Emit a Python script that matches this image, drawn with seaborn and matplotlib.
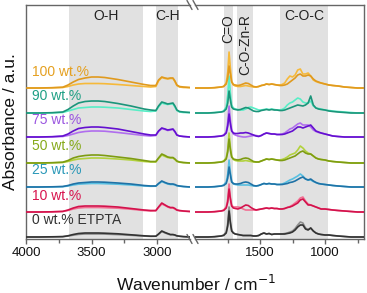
import matplotlib
matplotlib.use("Agg")
import matplotlib.pyplot as plt
from matplotlib.lines import Line2D
import seaborn as sns
import pandas as pd

sns.set_theme(style="white")
plt.rcParams['font.family'] = ['Liberation Sans', 'DejaVu Sans']

# ---------------- data (absorbance, arbitrary units, relative to each trace's baseline) -------------
labels = ["100 wt.%", "90 wt.%", "75 wt.%", "50 wt.%", "25 wt.%", "10 wt.%", "0 wt.% ETPTA"]
offsets = [150, 125, 101, 75, 51, 26, 1]

dark_colors = ["#E09A1E", "#1B957A", "#6410D0", "#7E9C12", "#1F72A6", "#D3124C", "#333333"]
light_colors = ["#F6B93A", "#58EEC6", "#B06EEE", "#B2D23C", "#58C0E2", "#F26E92", "#8E8E8E"]
label_colors = ["#E5A020", "#1FA085", "#9A55E0", "#86AA1A", "#2A98B8", "#D8144E", "#333333"]

# high-wavenumber window
wn_left = [4000, 3900, 3800, 3720, 3680, 3640, 3600, 3550, 3500, 3450, 3400, 3300, 3200, 3100,
           3050, 3010, 2990, 2965, 2940, 2920, 2900, 2880, 2865, 2850, 2830, 2800, 2750]

left_dark = [
    [0, 0, 0.3, 0.8, 3, 6, 8.5, 10, 11, 11, 10.5, 8.5, 6, 3.5, 2.5, 2.5, 8, 11, 10, 9.5, 10, 10, 7, 3, 1.5, 1, 0.5],
    [0, 0, 0.3, 1, 3.5, 7, 10, 11.5, 12, 12, 11.5, 9.5, 7, 4, 3, 2.5, 7, 11, 10, 9, 9.5, 10, 7, 3, 1.5, 1, 0.5],
    [0, 0, 0.3, 1, 3, 6, 8.5, 9.5, 10, 10, 9.5, 8, 5.5, 3, 2, 2, 6, 9, 8, 7, 7.5, 8, 5.5, 2, 1, 0.5, 0],
    [0, 0, 0.3, 0.8, 2.5, 5, 6.5, 7.5, 8, 8, 7.5, 6, 4.5, 2.5, 1.5, 1.5, 5, 9, 7.5, 6, 5.5, 5.5, 4, 2, 1, 0.5, 0],
    [0, 0, 0.2, 0.5, 1.5, 3, 4, 4.5, 5, 5, 4.8, 4, 3, 1.5, 1, 1, 3.5, 6, 4.5, 3.5, 3, 3, 2.5, 1.5, 1, 0.5, 0],
    [0, 0, 0.2, 0.6, 2, 4, 5.5, 6, 6, 6, 5.8, 5, 3.5, 2, 1.5, 1.5, 5, 9, 7, 5.5, 4.5, 4.5, 3.5, 2, 1.5, 1, 0.5],
    [0, 0, 0.2, 0.4, 1.2, 2.5, 3.5, 4, 4, 4, 3.8, 3.2, 2.2, 1.2, 0.8, 0.8, 3, 6, 4.5, 3.5, 2.5, 2.5, 2, 1.2, 0.8, 0.4, 0],
]
left_light = [
    [0, 0, 0.2, 0.5, 1.5, 3, 4, 4.5, 4.5, 4.5, 4.3, 3.5, 2.5, 1.5, 1, 1.5, 7, 10.5, 9.5, 9, 9.5, 9.5, 6.5, 2.5, 1, 0.5, 0.3],
    [0, 0, 0.2, 0.5, 2, 3.5, 5, 5.5, 6, 6, 5.8, 5, 3.5, 2, 1.5, 2, 6, 10, 9, 8.5, 9, 9, 6, 2.5, 1, 0.5, 0.3],
    [0, 0, 0.2, 0.5, 1.5, 3, 4.5, 5.5, 6, 6, 5.8, 4.5, 3, 1.5, 1, 1.5, 5.5, 8.5, 7.5, 6.5, 7, 7.5, 5, 2, 1, 0.5, 0],
    [0, 0, 0.2, 0.5, 1.5, 3, 4, 4.5, 5, 5, 4.8, 4, 3, 1.5, 1, 1, 4.5, 8, 6.5, 5.5, 5, 5, 3.5, 1.5, 0.8, 0.3, 0],
    [0, 0, 0.1, 0.3, 1, 2, 2.8, 3.2, 3.5, 3.5, 3.3, 2.8, 2, 1, 0.7, 0.8, 3, 5.5, 4, 3, 2.5, 2.5, 2, 1.2, 0.8, 0.4, 0],
    [0, 0, 0.2, 0.5, 1.5, 3, 4, 4.5, 4.5, 4.5, 4.3, 3.8, 2.8, 1.5, 1, 1.2, 4.5, 8, 6.5, 5, 4, 4, 3, 1.8, 1.2, 0.8, 0.5],
    [0, 0, 0.1, 0.3, 0.9, 1.8, 2.6, 3, 3, 3, 2.9, 2.4, 1.7, 0.9, 0.6, 0.7, 2.6, 5.5, 4, 3, 2.2, 2.2, 1.8, 1, 0.7, 0.3, 0],
]

# fingerprint window
wn_right = [2000, 1900, 1850, 1800, 1780, 1760, 1748, 1738, 1728, 1718, 1705, 1690, 1670, 1650, 1630,
            1610, 1590, 1570, 1550, 1530, 1510, 1490, 1470, 1450, 1430, 1410, 1390, 1370, 1350, 1330,
            1310, 1290, 1270, 1250, 1230, 1210, 1190, 1170, 1150, 1130, 1110, 1090, 1070, 1050, 1030,
            1000, 970, 940, 900, 850, 800, 750, 700]

right_dark = [
    [0, 0, 0.3, 1, 1.5, 4, 10, 22, 14, 6, 3.5, 3, 2.5, 3, 4, 5, 4.5, 3, 1.5, 1, 1.5, 2.5, 3, 4, 3.5, 4, 3.5,
     3, 2.5, 2.5, 3, 4, 6, 8, 10, 13, 14, 12, 12, 13, 12, 9, 7, 6, 5, 4, 3, 2.5, 2, 1, 0.5, 0, 0],
    [0, 0, 0.3, 1, 1.5, 4, 10, 22, 13, 6, 4, 3.5, 3, 3.5, 4.5, 5.5, 5, 3.5, 2, 1.5, 1.5, 2.5, 3, 3.5, 3, 3.5, 3,
     3, 2.5, 2.5, 3, 4, 5, 6, 7, 8, 7.5, 7, 8, 10, 17, 8, 5, 4, 3.5, 3, 2, 1.5, 1, 0.5, 0, 0, 0],
    [0, 0, 0.3, 1, 1.5, 4, 11, 23, 13, 6, 4, 3.5, 3.5, 4, 4, 4.5, 4, 3, 2, 1, 0.5, 1.5, 3, 4, 3.5, 3, 3,
     2.5, 2.5, 2.5, 3, 4, 5, 6, 8, 10, 10, 9, 10, 11, 12, 9, 6, 5, 4, 3, 2, 1, 0.5, 0, 0, 0, 0],
    [0, 0, 0.3, 1, 1.5, 4, 11, 24, 13, 6, 4, 3.5, 3, 3.5, 4.5, 5, 4.5, 3, 1.5, 1, 1, 2, 3, 4, 3.5, 4, 3.5,
     3, 2.5, 2.5, 3, 4, 5, 6, 7, 9, 11, 12, 10, 9, 9, 7, 5, 4, 3.5, 3, 2, 1.5, 1, 0.5, 0, 0, 0],
    [0, 0, 0.3, 1, 1.5, 3.5, 9, 20, 12, 5, 3.5, 3, 3, 3.5, 4.5, 5, 4.5, 3, 1.5, 1, 1.5, 2.5, 3.5, 3, 3.5, 3, 3,
     2.5, 2.5, 2.5, 3, 3.5, 4.5, 5, 6, 7.5, 9, 10, 8, 7, 8, 6, 4.5, 3.5, 3, 2.5, 2, 1.5, 1, 0.5, 0, 0, 0],
    [0, 0, 0.3, 1, 1.5, 4, 10, 23, 13, 6, 4, 3.5, 3, 4, 5.5, 7, 6.5, 4.5, 3, 2, 2.5, 3, 3.5, 4, 3.5, 4, 3.5,
     3.5, 3, 3, 3.5, 4.5, 5, 6, 7.5, 9, 12, 13, 10, 7, 7, 6, 5, 4, 3, 3, 2.5, 2, 1.5, 1, 0.5, 0, 0],
    [0, 0, 0.3, 1, 1.5, 4, 11, 26, 14, 6, 4, 3, 2.5, 2, 1.5, 1.5, 1.5, 1.5, 1, 1, 1.5, 3, 4, 3, 3.5, 2.5, 3,
     3, 3, 3, 3, 3.5, 4, 5, 7, 10, 12, 12, 8, 7, 9, 6, 4, 3, 2.5, 2, 2, 1.5, 1, 0.5, 0, 0, 0],
]
right_light = [
    [0, 0, 0.3, 1, 1.5, 5, 16, 36, 20, 7, 3, 2, 1.5, 1.5, 2, 2.5, 2, 1.5, 1, 1, 1.5, 2.5, 3, 4, 3.5, 4, 3.5,
     3, 3, 3.5, 5, 9, 12, 11, 13, 18, 19, 14, 14, 15, 12, 8, 6.5, 5.5, 5, 4, 3, 2.5, 2, 1, 0.5, 0, 0],
    [0, 0, 0.5, 1, 2, 6, 18, 37, 20, 8, 5, 4, 3.5, 3, 3, 4, 5.5, 6, 5, 4, 3, 3, 3.5, 4, 3.5, 4, 3.5,
     3, 3, 3.5, 5, 8, 10, 11, 13, 15, 14, 11, 10, 10, 12, 7, 5, 4.5, 4, 3, 2.5, 2, 1.5, 1, 0.5, 0, 0],
    [0, 0, 0.3, 1, 2, 5, 15, 31, 17, 7, 3, 2, 1, 0.5, 0, 0, 0.5, 1, 1.5, 1.5, 1, 1.5, 3, 4, 3.5, 3, 3,
     2.5, 2.5, 3, 4, 6, 8, 9, 11, 13, 14, 12, 12, 12, 10, 7, 5.5, 4.5, 4, 3, 2, 1, 0.5, 0, 0, 0, 0],
    [0, 0, 0.3, 1, 2, 5, 14, 30, 16, 7, 3.5, 2.5, 2, 2, 2, 2.5, 2, 1.5, 1, 1, 1, 2, 3, 4, 3.5, 4, 3.5,
     3, 3, 3.5, 4.5, 6, 8, 9, 10, 13, 17, 15, 12, 10, 9, 7, 5, 4, 3.5, 3, 2, 1.5, 1, 0.5, 0, 0, 0],
    [0, 0, 0.3, 1, 2, 5, 13, 27, 15, 6, 3, 2.5, 2, 2, 2, 2, 2, 1.5, 1, 1, 1.5, 2.5, 3.5, 3, 3.5, 3, 3,
     2.5, 2.5, 3, 4, 5.5, 7, 8, 9.5, 11, 13, 11, 8, 7, 7, 5.5, 4.5, 3.5, 3, 2.5, 2, 1.5, 1, 0.5, 0, 0, 0],
    [0, 0, 0.3, 1, 2, 5, 13, 28, 15, 7, 5, 5, 5, 4.5, 3, 2, 2, 2, 2, 2, 2.5, 3, 3.5, 4, 3.5, 4, 3.5,
     3.5, 3, 3, 3.5, 4.5, 5.5, 7, 9, 11, 14, 15, 11, 8, 7, 6, 5, 4, 3, 3, 2.5, 2, 1.5, 1, 0.5, 0, 0],
    [0, 0, 0.3, 1, 2, 5, 14, 30, 16, 7, 4, 3, 2.5, 2, 1.5, 1.5, 1.5, 1.5, 1, 1, 1.5, 3, 4, 3, 3.5, 2.5, 3,
     3, 3, 3, 3.5, 4, 5, 6, 8.5, 12, 15, 14, 9, 7.5, 9, 6, 4, 3, 2.5, 2, 2, 1.5, 1, 0.5, 0, 0, 0],
]

bands_left = [(3672, 3108, "O-H"), (3008, 2838, "C-H")]
bands_right = [(1776, 1710, "C=O"), (1675, 1555, "C-O-Zn-R"), (1345, 975, "C-O-C")]

# ---------------- figure ----------------
W, H = 367, 293
fig = plt.figure(figsize=(W / 100, H / 100), dpi=100)
bottom_px, top_px = 239, 5
axL = fig.add_axes([26 / W, 1 - bottom_px / H, 164 / W, (bottom_px - top_px) / H])
axR = fig.add_axes([195 / W, 1 - bottom_px / H, 169 / W, (bottom_px - top_px) / H])

ylim = (-1, 233)
shade = "#e1e1e1"
spine_c = "#666666"

for ax, wn, darks, lights, bands, xlim in [
    (axL, wn_left, left_dark, left_light, bands_left, (4000, 2750)),
    (axR, wn_right, right_dark, right_light, bands_right, (2000, 700)),
]:
    for (a, b, _) in bands:
        ax.axvspan(a, b, color=shade, lw=0, zorder=0)
    for i in range(len(labels)):
        df_l = pd.DataFrame({"wn": wn, "A": [v + offsets[i] for v in lights[i]]})
        df_d = pd.DataFrame({"wn": wn, "A": [v + offsets[i] for v in darks[i]]})
        sns.lineplot(data=df_l, x="wn", y="A", ax=ax, color=light_colors[i], lw=1.2,
                     estimator=None, sort=False, zorder=2)
        sns.lineplot(data=df_d, x="wn", y="A", ax=ax, color=dark_colors[i], lw=1.2,
                     estimator=None, sort=False, zorder=3)
    ax.set_xlim(*xlim)
    ax.set_ylim(*ylim)
    ax.set_yticks([])
    ax.set_xlabel("")
    ax.set_ylabel("")
    for s in ax.spines.values():
        s.set_color(spine_c)
        s.set_linewidth(1.0)
    ax.tick_params(axis="x", which="both", direction="out", color=spine_c, labelsize=9.5,
                   labelcolor="#111111", pad=2, bottom=True)
    ax.tick_params(axis="x", which="major", length=3.5, width=1.0)
    ax.tick_params(axis="x", which="minor", length=3.0, width=1.0)

axL.set_xticks([4000, 3500, 3000])
axL.set_xticks([3750, 3250], minor=True)
axR.set_xticks([1500, 1000])
axR.set_xticks([1750, 1250, 750], minor=True)
axL.spines["right"].set_visible(False)
axR.spines["left"].set_visible(False)

# band labels
axL.text(3390, 0.953, "O-H", transform=axL.get_xaxis_transform(), ha="center", va="center",
         fontsize=10, color="#222222")
axL.text(2923, 0.953, "C-H", transform=axL.get_xaxis_transform(), ha="center", va="center",
         fontsize=10, color="#222222")
axR.text(1742, 0.962, "C=O", transform=axR.get_xaxis_transform(), ha="center", va="top",
         rotation=90, fontsize=10, color="#222222")
axR.text(1613, 0.962, "C-O-Zn-R", transform=axR.get_xaxis_transform(), ha="center", va="top",
         rotation=90, fontsize=10, color="#222222")
axR.text(1160, 0.953, "C-O-C", transform=axR.get_xaxis_transform(), ha="center", va="center",
         fontsize=10, color="#222222")

# sample labels
for i, lab in enumerate(labels):
    axL.text(3955, offsets[i] + 16.5, lab, ha="left", va="center", fontsize=10,
             color=label_colors[i], zorder=5)

# axis labels
fig.text(11 / W, 1 - 122 / H, "Absorbance / a.u.", rotation=90, ha="center", va="center",
         fontsize=12.5, color="#111111")
fig.text(196 / W, 1 - 284 / H, "Wavenumber / cm$^{-1}$", ha="center", va="center",
         fontsize=12.5, color="#111111")

# break marks
for yc in (top_px, bottom_px):
    for xc in (189.5, 195.5):
        x0, x1 = (xc - 2.5) / W, (xc + 2.5) / W
        y0, y1 = 1 - (yc - 4.5) / H, 1 - (yc + 4.5) / H
        fig.add_artist(Line2D([x0, x1], [y0, y1], color=spine_c, lw=1.0))

fig.savefig("out.png", dpi=100)
